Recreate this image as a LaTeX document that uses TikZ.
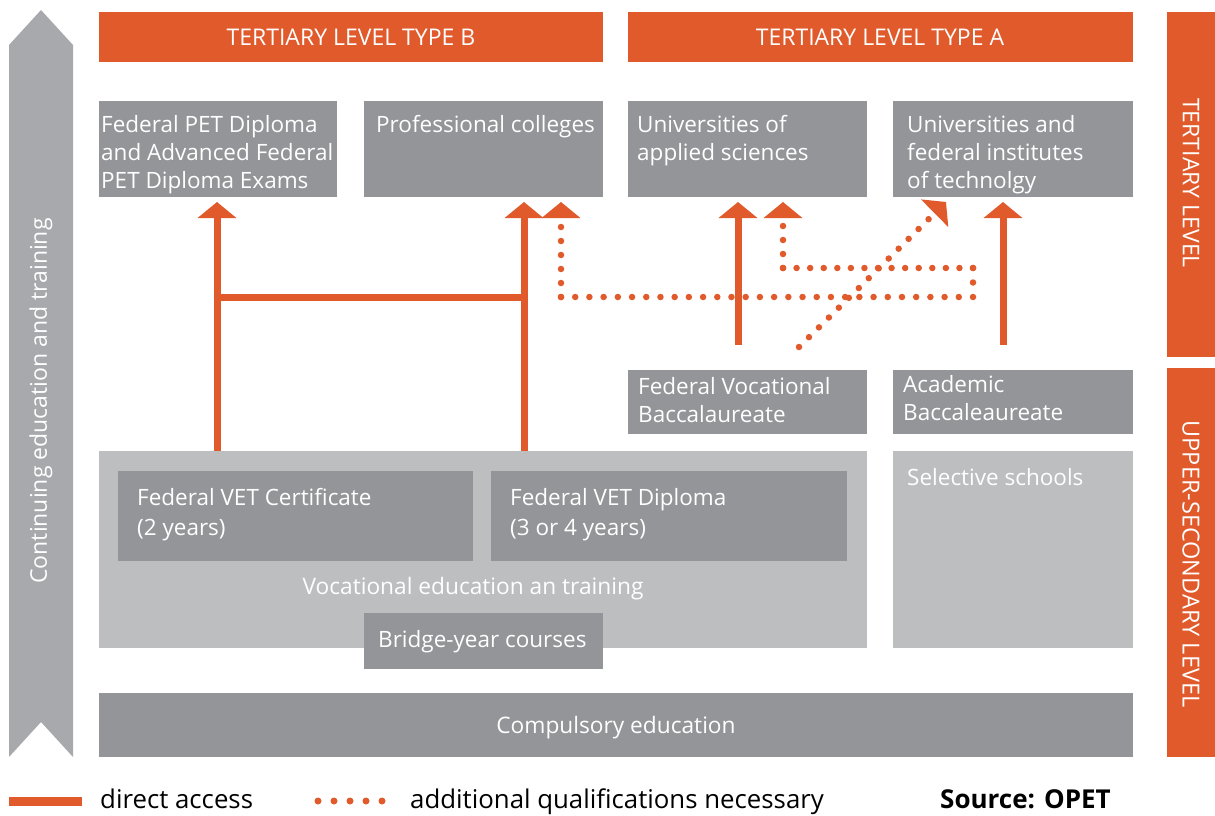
\documentclass[tikz,border=0pt]{standalone}
\usepackage{fontspec}
\setmainfont{Open Sans}
\usetikzlibrary{arrows.meta}
\definecolor{org}{HTML}{E05A2B}
\definecolor{dg}{HTML}{939598}
\definecolor{lg}{HTML}{BCBEC0}
\definecolor{ag}{HTML}{A7A9AC}
\begin{document}
\begin{tikzpicture}[x=1pt,y=-1pt,
  box/.style={fill=dg, draw=none, inner sep=0, anchor=north west},
  lbox/.style={fill=lg, draw=none, inner sep=0, anchor=north west},
  obox/.style={fill=org, draw=none, inner sep=0, anchor=north west},
  txt/.style={text=white, font=\fontsize{22.5}{28}\selectfont, align=left, anchor=north west, inner sep=0},
  ctxt/.style={text=white, font=\fontsize{22.7}{28}\selectfont, anchor=base, inner sep=0},
  htxt/.style={text=white, font=\fontsize{23}{28}\selectfont, inner sep=0},
  legtxt/.style={text=black, font=\fontsize{25.8}{30}\selectfont, anchor=base west, inner sep=0},
  solidarrow/.style={draw=org, line width=7pt, -{Triangle[width=38pt,length=16pt]}},
  solidline/.style={draw=org, line width=7pt},
  dotline/.style={draw=org, line width=6.5pt, line cap=round, dash pattern=on 0pt off #1},
  dotline/.default=14pt,
  dotarrow/.style={dotline, -{Triangle[width=38pt,length=16pt,line cap=butt]}},
]
\useasboundingbox (0,0) rectangle (1215,816);

% left big arrow
\fill[ag] (9,757) -- (9,45) -- (41,10) -- (73,45) -- (73,757) -- (41,722) -- cycle;
\node[htxt, rotate=90] (cet) at (41,401) {Continuing education and training};

% right level bars
\node[obox, minimum width=48pt, minimum height=345pt] (tl) at (1167,12) {};
\node[htxt, rotate=-90] (tlt) at (1191,183) {TERTIARY LEVEL};
\node[obox, minimum width=48pt, minimum height=389pt] (ul) at (1167,368) {};
\node[htxt, rotate=-90, font=\fontsize{23.5}{28}\selectfont] (ult) at (1191,564) {UPPER-SECONDARY LEVEL};

% headers
\node[obox, minimum width=504pt, minimum height=50pt] (hb) at (99,12) {};
\node[htxt] (hbt) at (351,37) {TERTIARY LEVEL TYPE B};
\node[obox, minimum width=505pt, minimum height=50pt] (ha) at (628,12) {};
\node[htxt] (hat) at (880,37) {TERTIARY LEVEL TYPE A};

% arrows (drawn before tertiary boxes)
\coordinate (a1s) at (217,451); \coordinate (a1e) at (217,202);
\coordinate (a2s) at (524,451); \coordinate (a2e) at (524,202);
\coordinate (hl) at (217,297); \coordinate (hr) at (524,297);
\draw[solidarrow] (a1s) -- (a1e);
\draw[solidarrow] (a2s) -- (a2e);
\draw[solidline] (hl) -- (hr);
\coordinate (a3s) at (738,345); \coordinate (a3e) at (738,202);
\coordinate (a4s) at (1003,345); \coordinate (a4e) at (1003,202);
\draw[solidarrow] (a3s) -- (a3e);
\draw[solidarrow] (a4s) -- (a4e);

% dotted paths
\coordinate (d1) at (561,297); \coordinate (d1e) at (561,202);
\coordinate (d2) at (973,297); \coordinate (d3) at (973,268);
\coordinate (d4) at (783,268); \coordinate (d4e) at (783,202);
\draw[dotarrow] (d1) -- (d1e);
\draw[dotline=14.207pt] (d1) -- (d2);
\draw[dotline=14.5pt] (d2) -- (d3);
\draw[dotline=13.57pt] (d3) -- (d4);
\draw[dotarrow] (d4) -- (d4e);
\coordinate (ds) at (799,347); \coordinate (de) at (946,202);
\draw[dotarrow] (ds) -- (de);

% tertiary boxes
\node[box, minimum width=238pt, minimum height=96pt] (pet) at (99,101) {};
\node[txt] (pett) at (101,115) {Federal PET Diploma\\and Advanced Federal\\PET Diploma Exams};
\node[box, minimum width=239pt, minimum height=96pt] (pc) at (364,101) {};
\node[txt] (pct) at (376,115) {Professional colleges};
\node[box, minimum width=239pt, minimum height=96pt] (uas) at (628,101) {};
\node[txt] (uast) at (637,115) {Universities of\\applied sciences};
\node[box, minimum width=240pt, minimum height=96pt] (uni) at (893,101) {};
\node[txt] (unit) at (907,115) {Universities and\\federal institutes\\of technolgy};

% baccalaureates
\node[box, minimum width=239pt, minimum height=64pt] (fvb) at (628,370) {};
\node[txt] (fvbt) at (638,377) {Federal Vocational\\Baccalaureate};
\node[box, minimum width=240pt, minimum height=64pt] (ab) at (893,370) {};
\node[txt] (abt) at (903,375) {Academic\\Baccaleaureate};

% VET area
\node[lbox, minimum width=768pt, minimum height=197pt] (vet) at (99,451) {};
\node[lbox, minimum width=240pt, minimum height=197pt] (sel) at (893,451) {};
\node[txt] (selt) at (907,468) {Selective schools};
\node[box, minimum width=355pt, minimum height=90pt] (cert) at (118,471) {};
\node[txt, font=\fontsize{22.5}{30}\selectfont] (certt) at (137,488) {Federal VET Certificate\\(2 years)};
\node[box, minimum width=356pt, minimum height=90pt] (dip) at (491,471) {};
\node[txt, font=\fontsize{22.5}{30}\selectfont] (dipt) at (510,488) {Federal VET Diploma\\(3 or 4 years)};
\node[ctxt] (vett) at (473,594) {Vocational education an training};
\node[box, minimum width=239pt, minimum height=56pt] (bridge) at (364,613) {};
\node[txt] (bridget) at (378,630) {Bridge-year courses};

% compulsory
\node[box, minimum width=1034pt, minimum height=64pt] (comp) at (99,693) {};
\node[ctxt] (compt) at (616,733) {Compulsory education};

% legend
\coordinate (l1a) at (9,801); \coordinate (l1b) at (82,801);
\draw[org, line width=9pt] (l1a) -- (l1b);
\node[legtxt] (l1t) at (100,808) {direct access};
\coordinate (l2a) at (318,801); \coordinate (l2b) at (398,801);
\draw[dotline=16pt, line width=7pt] (l2a) -- (l2b);
\node[legtxt] (l2t) at (410,808) {additional qualifications necessary};
\node[legtxt, font=\fontsize{26}{30}\selectfont\bfseries] (src) at (940,808) {Source: OPET};
\end{tikzpicture}
\end{document}
